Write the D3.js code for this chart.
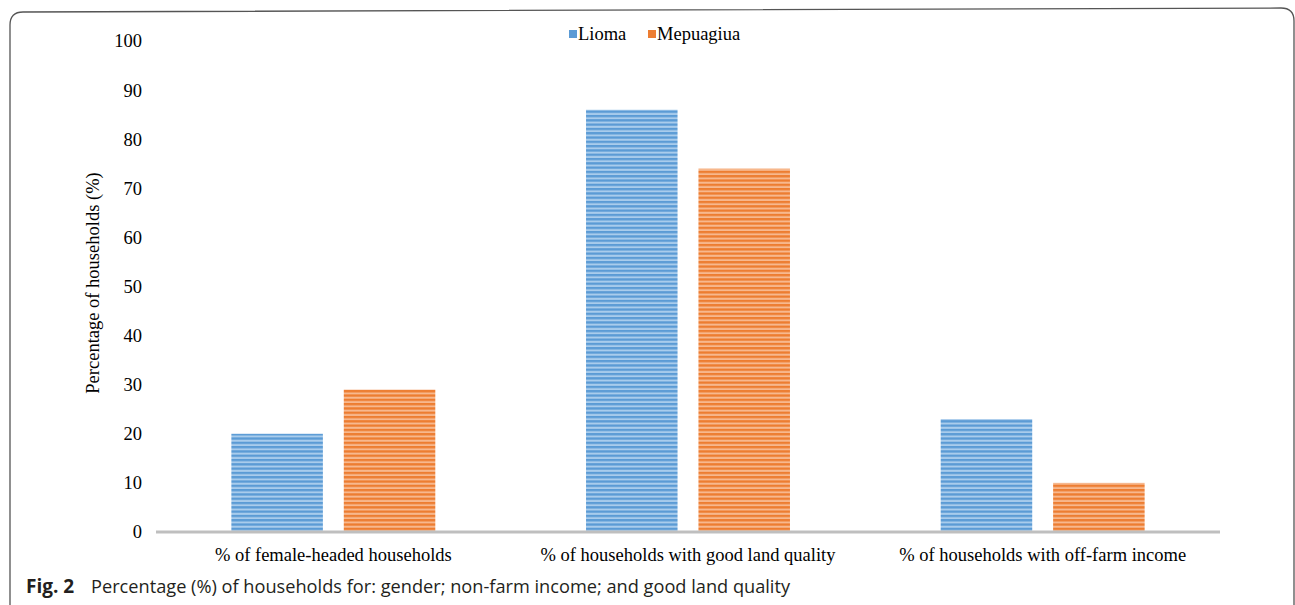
<!DOCTYPE html>
<html><head><meta charset="utf-8">
<script src="https://cdn.jsdelivr.net/npm/d3@7"></script>
<style>html,body{margin:0;padding:0;background:#fff;}svg{display:block;}</style>
</head><body>
<svg id="chart" width="1295" height="605"></svg>
<script>
const categories = ["% of female-headed households", "% of households with good land quality", "% of households with off-farm income"];
const seriesNames = ["Lioma", "Mepuagiua"];
const liomaValues = [20, 86, 23];
const mepuagiuaValues = [29, 74, 10];
const yTicks = [0, 10, 20, 30, 40, 50, 60, 70, 80, 90, 100];

(function () {
const svg = d3.select("#chart");
const serif = "'Liberation Serif','Times New Roman',serif";
const sans = "'Open Sans','Noto Sans',sans-serif";

// frame
svg.append("path")
  .attr("d", "M10,640 L10,25 Q10,12 23,12 L1281,8 Q1294,8 1294,21 L1294,640")
  .attr("fill", "none").attr("stroke", "#555").attr("stroke-width", 1.3);

const pLeft = 156, pRight = 1220, pTop = 41, pBottom = 532;
const x0 = d3.scaleBand().domain(categories).range([pLeft, pRight]).paddingInner(0.425).paddingOuter(0.2125);
const x1 = d3.scaleBand().domain(seriesNames).range([0, x0.bandwidth()]).paddingInner(0.186).paddingOuter(0);
const y = d3.scaleLinear().domain([0, 100]).range([pBottom, pTop]);

const colors = {
  Lioma: ["#5B9BD5", "#A9CCEC"],
  Mepuagiua: ["#ED7D31", "#F7B88E"]
};
const defs = svg.append("defs");
seriesNames.forEach((s, i) => {
  const p = defs.append("pattern").attr("id", "pat" + i).attr("patternUnits", "userSpaceOnUse")
    .attr("width", 10).attr("height", 4.3).attr("y", pBottom);
  p.append("rect").attr("width", 10).attr("height", 4.3).attr("fill", colors[s][1]);
  p.append("rect").attr("width", 10).attr("y", 0).attr("height", 2.3).attr("fill", colors[s][0]);
});

// y axis ticks (labels only)
const yAxis = d3.axisLeft(y).tickValues(yTicks).tickSize(0).tickPadding(0);
const ya = svg.append("g").attr("transform", `translate(142,0)`).call(yAxis);
ya.select(".domain").remove();
ya.selectAll("text").attr("font-family", serif).attr("font-size", 18.5).attr("fill", "#000");

// bars
const data = categories.map((c, i) => ({ c, vals: [liomaValues[i], mepuagiuaValues[i]] }));
const g = svg.append("g");
data.forEach(d => {
  d.vals.forEach((v, j) => {
    g.append("rect")
      .attr("x", x0(d.c) + x1(seriesNames[j]))
      .attr("y", y(v))
      .attr("width", x1.bandwidth())
      .attr("height", y(0) - y(v))
      .attr("fill", `url(#pat${j})`);
  });
});

// x axis line
const xAxis = d3.axisBottom(x0).tickSize(0).tickPadding(16);
const xa = svg.append("g").attr("transform", `translate(0,${pBottom})`).call(xAxis);
xa.select(".domain").attr("stroke", "#BFBFBF").attr("stroke-width", 3).attr("d", `M${pLeft},0H${pRight}`);
xa.selectAll("text").attr("font-family", serif).attr("font-size", 18.5).attr("fill", "#000");

// y label
svg.append("text").attr("transform", `translate(99,283) rotate(-90)`)
  .attr("text-anchor", "middle").attr("font-family", serif).attr("font-size", 18.5).attr("fill", "#000")
  .text("Percentage of households (%)");

// legend
const lg = svg.append("g");
const l1 = lg.append("g");
l1.append("rect").attr("x", 569).attr("y", 30).attr("width", 8).attr("height", 8).attr("fill", colors.Lioma[0]);
l1.append("text").attr("x", 578).attr("y", 40).attr("font-family", serif).attr("font-size", 18.5).text(seriesNames[0]);
const l2 = lg.append("g");
l2.append("rect").attr("x", 648).attr("y", 30).attr("width", 8).attr("height", 8).attr("fill", colors.Mepuagiua[0]);
l2.append("text").attr("x", 657).attr("y", 40).attr("font-family", serif).attr("font-size", 18.5).text(seriesNames[1]);

// caption
svg.append("text").attr("x", 26).attr("y", 593).attr("font-family", sans).attr("font-size", 19)
  .attr("font-weight", "bold").attr("fill", "#231F20").text("Fig. 2");
const capText = svg.append("text").attr("x", 91).attr("y", 593).attr("font-family", sans).attr("font-size", 18.2)
  .attr("fill", "#231F20").text("Percentage (%) of households for: gender; non-farm income; and good land quality");
const w = capText.node().getComputedTextLength();
if (w > 0) capText.attr("font-size", 18.2 * 699 / w);
})();
</script>
</body></html>
